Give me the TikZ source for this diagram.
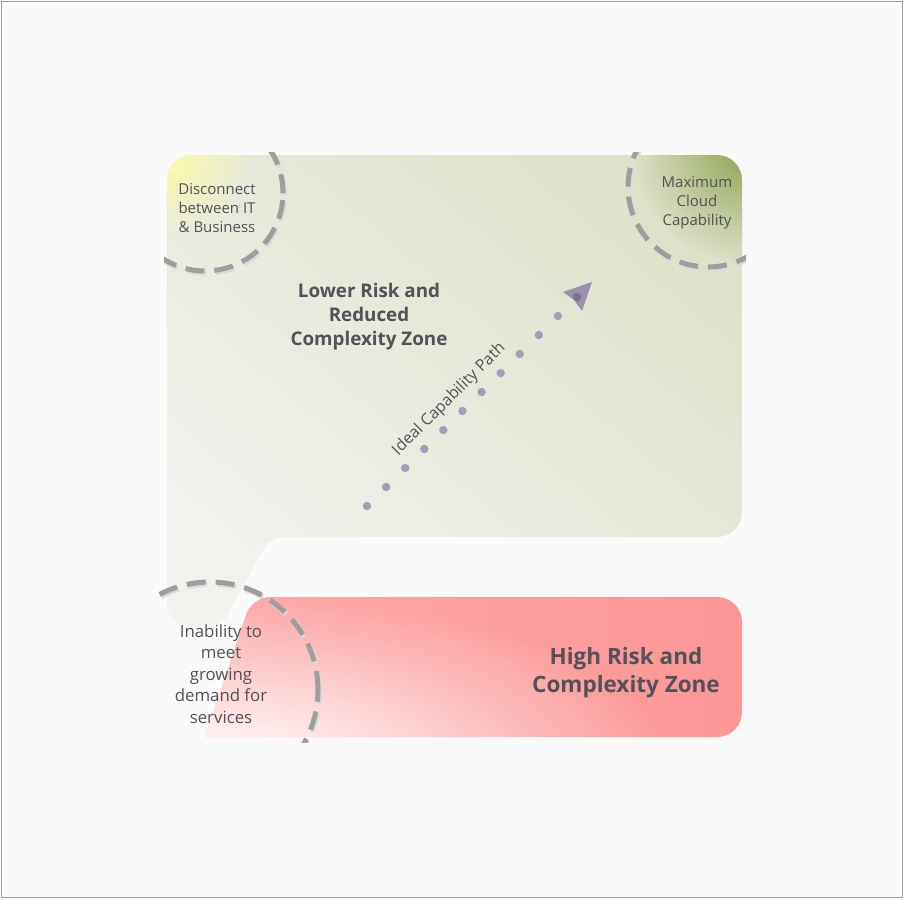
\documentclass[tikz,border=0pt]{standalone}
\usepackage{fontspec}
\setmainfont{Open Sans}
\usepackage{tikz}
\tikzset{>=latex}
\usetikzlibrary{calc,fadings,positioning}

\definecolor{labelgray}{RGB}{82,82,88}
\definecolor{dashgray}{RGB}{158,158,158}
\definecolor{dashshade}{RGB}{218,218,218}
\definecolor{dotpurple}{RGB}{166,156,186}
\definecolor{arrowpurple}{RGB}{138,124,165}
\definecolor{zonegreen}{RGB}{222,226,202}
\definecolor{zonegray}{RGB}{241,241,237}
\definecolor{glowyellow}{RGB}{250,250,168}
\definecolor{glowolive}{RGB}{146,165,86}
\definecolor{zonered}{RGB}{252,150,150}
\definecolor{zonepink}{RGB}{253,180,180}

\tikzfading[name=glowfade, inner color=transparent!0, outer color=transparent!100]

\begin{document}
\begin{tikzpicture}[x=1pt,y=-1pt,
    dashring/.style={draw=dashgray, line width=5pt, dash pattern=on 19pt off 10pt},
    dashshadow/.style={draw=dashshade, line width=5pt, dash pattern=on 19pt off 10pt},
    smalltext/.style={text=labelgray, align=center, font=\fontsize{15}{19.2}\selectfont},
    zonetext/.style={text=labelgray, align=center}]

    % background and frame
    \fill[black!2] (0,0) rectangle (904,900);
    \draw[gray!75, line width=1pt] (1.5,1.5) rectangle (902,897);
    \useasboundingbox (0,0) rectangle (904,900);

    % lower risk zone
    \shade[top color=zonegreen, bottom color=zonegray, shading angle=-40]
        [rounded corners=25] (167,400) -- (167,155) -- (742,155) -- (742,537)
        [rounded corners=14] -- (270,537) [rounded corners=12] -- (222,625)
        [rounded corners=20] -- (167,625) -- cycle;
    \begin{scope}
        \clip[rounded corners=25] (167,400) -- (167,155) -- (742,155) -- (742,537) -- (300,537) -- (300,400) -- cycle;
        \fill[glowyellow, path fading=glowfade] (170,158) circle (80pt);
        \fill[glowolive, path fading=glowfade] (745,152) circle (112pt);
    \end{scope}

    % high risk zone
    \begin{scope}
        \clip[rounded corners=25] (500,737) -- (742,737) -- (742,597)
            [rounded corners=18] -- (252,597) [rounded corners=0] -- (205,737) -- cycle;
        \shade[left color={rgb,255:red,253;green,168;blue,168}, middle color=zonepink, right color=zonered] (200,595) rectangle (745,740);
        \fill[white, path fading=glowfade] (212,765) ellipse [x radius=460pt, y radius=170pt];
    \end{scope}

    % dashed rings
    \coordinate (disconnectc) at (205,193);
    \coordinate (maxcloudc) at (708,187);
    \coordinate (inabilityc) at (210,690);
    \begin{scope}
        \clip (164,152) rectangle (300,290);
        \draw[dashshadow] ($(disconnectc)+(1.5,2)$) circle (78pt);
        \draw[dashring] (disconnectc) circle (78pt);
    \end{scope}
    \begin{scope}
        \clip (615,152) rectangle (746,275);
        \draw[dashshadow] ($(maxcloudc)+(1.5,2)$) circle (80pt);
        \draw[dashring] (maxcloudc) circle (80pt);
    \end{scope}
    \begin{scope}
        \clip (158,572) rectangle (330,742);
        \draw[dashshadow] ($(inabilityc)+(1.5,2)$) circle (108pt);
        \draw[dashring] (inabilityc) circle (108pt);
    \end{scope}

    % labels
    \node[smalltext] (disconnect) at (217,208) {Disconnect\\between IT\\\& Business};
    \node[smalltext] (maxcloud) at (697,203) {Maximum\\Cloud\\Capability};
    \node[zonetext, font=\fontsize{18.8}{24}\selectfont\bfseries] (lowzone) at (369,317) {Lower Risk and\\Reduced\\Complexity Zone};
    \node[zonetext, font=\fontsize{22.5}{28}\selectfont\bfseries] (highzone) at (626,673) {High Risk and\\Complexity Zone};
    \node[zonetext, font=\fontsize{16.8}{21.5}\selectfont] (inability) at (221,674) {Inability to\\meet\\growing\\demand for\\services};

    % ideal capability path
    \coordinate (pathstart) at (367,506);
    \coordinate (pathend) at (577,297);
    \foreach \i in {0,...,10}
        \fill[dotpurple] ($(pathstart)!\i/11!(pathend)$) circle (4.2pt);
    \fill[arrowpurple, opacity=0.8] ($(pathend)+(15,-15)$) -- ($(pathend)+(-14,-5)$) -- ($(pathend)+(-3,3)$) -- ($(pathend)+(5,14)$) -- cycle;
    \fill[arrowpurple!90!black] (pathend) circle (4.2pt);
    \path (pathstart) -- (pathend) node[pos=0.45, sloped, above=6pt, text=labelgray, font=\fontsize{16}{18}\selectfont] (pathlabel) {Ideal Capability Path};
\end{tikzpicture}
\end{document}
